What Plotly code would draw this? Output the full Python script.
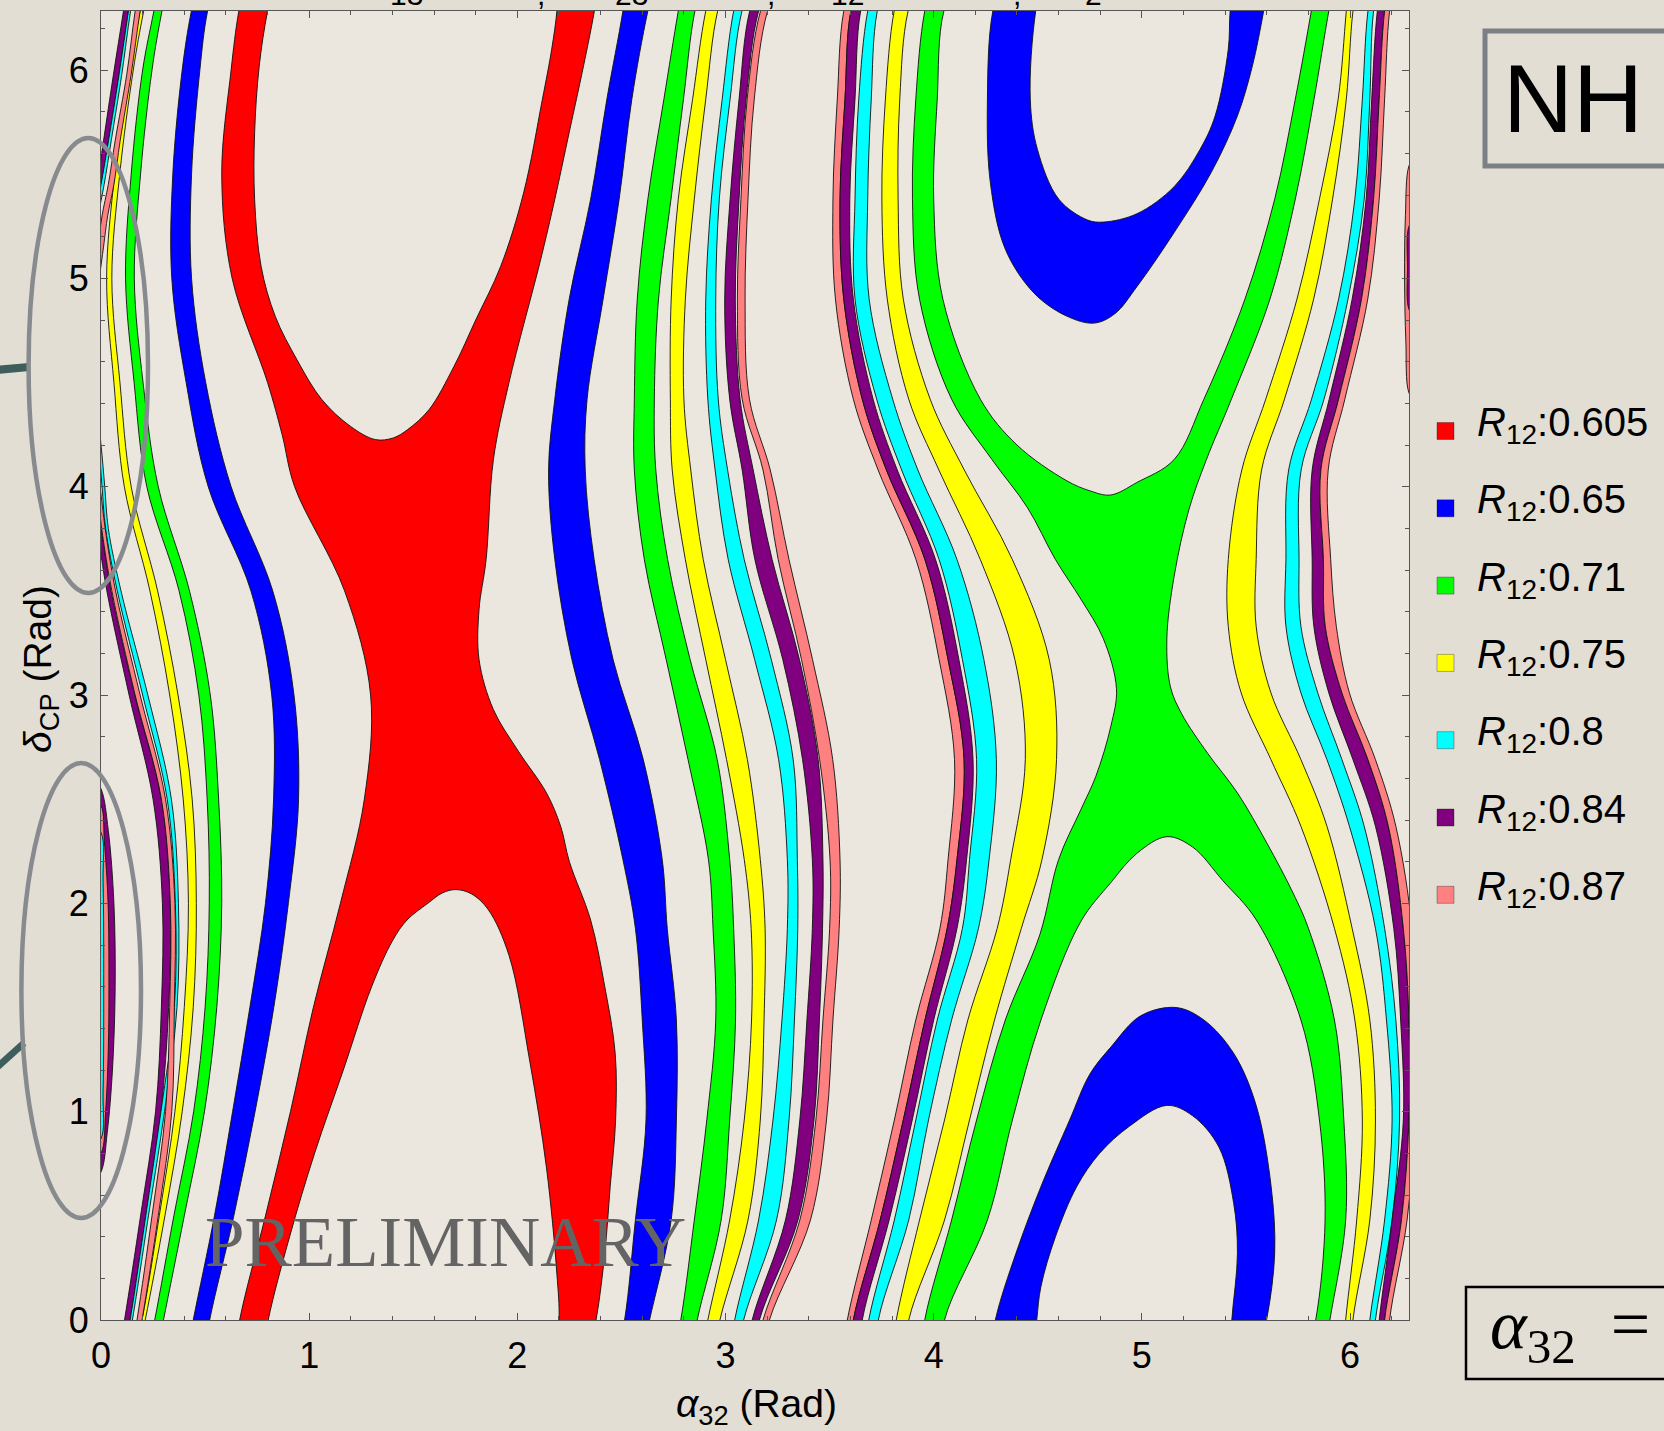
import plotly.graph_objects as go

# ---------------------------------------------------------------------------
# R12 bands in the (alpha_32, delta_CP) plane, normal hierarchy.
# Every band is stored as its left / right alpha_32 edge (rad) sampled at a
# list of delta_CP values (rad); closed shapes are stored as alpha/delta lists.
# ---------------------------------------------------------------------------
LEVELS = ["0.605", "0.65", "0.71", "0.75", "0.8", "0.84", "0.87"]
LEVEL_COLORS = ["#ff0000", "#0000ff", "#00ff00", "#ffff00", "#00ffff", "#800080", "#ff8080"]

# --- red band (R12 = 0.605): outer edges and the two enclosed holes ---
RED_WEST_DELTA = [-0.25, 0.0, 0.5, 1.0, 1.5, 2.0, 2.5, 3.0, 3.5, 4.0, 4.25, 4.5, 5.0, 5.5, 6.0, 6.283, 6.55]
RED_WEST_ALPHA = [0.63, 0.666, 0.79, 0.91, 1.02, 1.15, 1.265, 1.295, 1.17, 0.93, 0.87, 0.80, 0.63, 0.58, 0.625, 0.662, 0.72]
RED_EAST_DELTA = [-0.25, 0.0, 0.32, 0.64, 0.96, 1.28, 1.6, 1.92, 2.2, 2.37, 2.53, 2.73, 2.93, 3.17, 3.41,
                  3.65, 4.13, 4.5, 5.09, 5.38, 5.70, 6.02, 6.283, 6.55]
RED_EAST_ALPHA = [2.32, 2.378, 2.42, 2.446, 2.472, 2.47, 2.42, 2.352, 2.25, 2.208, 2.14, 2.005, 1.885, 1.816, 1.816,
                  1.85, 1.885, 1.96, 2.112, 2.18, 2.249, 2.318, 2.37, 2.41]
RED_UPPER_HOLE_ALPHA = [0.86, 0.80, 0.760, 0.738, 0.738, 0.769, 0.837, 0.941, 1.061, 1.198, 1.318, 1.404, 1.473,
                        1.576, 1.696, 1.80, 1.92, 2.03, 2.12, 2.165, 2.19, 2.205]
RED_UPPER_HOLE_DELTA = [6.55, 6.283, 6.018, 5.70, 5.378, 5.058, 4.818, 4.61, 4.418, 4.29, 4.226, 4.234, 4.274,
                        4.37, 4.578, 4.80, 5.058, 5.41, 5.858, 6.1, 6.283, 6.55]
RED_LOWER_HOLE_ALPHA = [0.76, 0.803, 0.906, 1.026, 1.164, 1.30, 1.40, 1.47, 1.57, 1.64, 1.705, 1.78, 1.86, 1.96,
                        2.06, 2.14, 2.19, 2.20, 2.17]
RED_LOWER_HOLE_DELTA = [-0.25, 0.0, 0.4, 0.8, 1.2, 1.6, 1.82, 1.92, 2.0, 2.05, 2.066, 2.045, 1.97, 1.75,
                        1.24, 0.73, 0.22, 0.0, -0.25]

# --- bands left of the red region ---
DELTA_WEST = [-0.25, 0.0, 0.5, 1.0, 1.5, 2.0, 2.5, 3.0, 3.5, 4.0, 4.5, 5.0, 5.5, 6.0, 6.283, 6.55]
BLUE_WEST_L = [0.395, 0.443, 0.545, 0.632, 0.715, 0.790, 0.829, 0.820, 0.720, 0.515, 0.409, 0.340, 0.345, 0.390, 0.434, 0.497]
BLUE_WEST_R = [0.480, 0.522, 0.638, 0.740, 0.830, 0.900, 0.949, 0.927, 0.825, 0.625, 0.503, 0.435, 0.435, 0.475, 0.512, 0.584]
GREEN_WEST_L = [0.206, 0.258, 0.350, 0.445, 0.500, 0.520, 0.510, 0.470, 0.375, 0.220, 0.159, 0.118, 0.145, 0.200, 0.254, 0.307]
GREEN_WEST_R = [0.250, 0.300, 0.400, 0.497, 0.556, 0.580, 0.565, 0.525, 0.425, 0.275, 0.202, 0.160, 0.190, 0.245, 0.293, 0.353]
YELLOW_WEST_L = [0.141, 0.197, 0.280, 0.355, 0.400, 0.420, 0.395, 0.330, 0.235, 0.112, 0.062, 0.027, 0.066, 0.135, 0.188, 0.241]
YELLOW_WEST_R = [0.161, 0.2125, 0.307, 0.390, 0.443, 0.458, 0.438, 0.370, 0.272, 0.145, 0.091, 0.052, 0.090, 0.155, 0.205, 0.263]

# thin bands near alpha_32 = 0, lower part (leave through the left frame)
DELTA_WEST_LOW = [-0.25, 0.0, 0.5, 1.0, 1.5, 2.0, 2.5, 3.0, 3.5, 3.8, 4.0, 4.2, 4.45]
PURPLE_LOW_L = [0.070, 0.113, 0.190, 0.262, 0.290, 0.295, 0.250, 0.135, 0.028, -0.020, -0.060, -0.100, -0.140]
PURPLE_LOW_R = [0.095, 0.140, 0.215, 0.288, 0.325, 0.333, 0.290, 0.162, 0.048, 0.000, -0.040, -0.080, -0.120]
PINK_LOW_L = [0.130, 0.173, 0.245, 0.310, 0.330, 0.333, 0.290, 0.164, 0.052, 0.003, -0.020, -0.060, -0.100]
PINK_LOW_R = [0.152, 0.197, 0.275, 0.340, 0.352, 0.355, 0.310, 0.188, 0.070, 0.020, -0.005, -0.040, -0.080]
CYAN_LOW_L = [0.095, 0.140, 0.215, 0.288, 0.352, 0.357, 0.318, 0.200, 0.078, 0.022, 0.005, -0.012, -0.050]
CYAN_LOW_R = [0.106, 0.151, 0.228, 0.305, 0.365, 0.372, 0.338, 0.225, 0.096, 0.035, 0.018, 0.000, -0.030]

# thin bands near alpha_32 = 0, upper part
DELTA_WEST_HIGH = [4.95, 5.15, 5.30, 5.45, 5.66, 5.98, 6.283, 6.55]
PURPLE_HIGH_L = [-0.150, -0.110, -0.050, -0.020, 0.012, 0.060, 0.108, 0.150]
PURPLE_HIGH_R = [-0.120, -0.080, -0.025, 0.005, 0.036, 0.087, 0.132, 0.175]
CYAN_HIGH_L = [-0.120, -0.070, -0.030, 0.000, 0.036, 0.087, 0.132, 0.175]
CYAN_HIGH_R = [-0.100, -0.050, -0.015, 0.015, 0.049, 0.100, 0.142, 0.188]
PINK_HIGH_L = [-0.040, -0.015, 0.005, 0.035, 0.068, 0.124, 0.164, 0.207]
PINK_HIGH_R = [-0.015, 0.012, 0.032, 0.062, 0.092, 0.145, 0.188, 0.234]

# small islands on the alpha_32 = 0 and alpha_32 = 2*pi edges
ISLAND_PURPLE_ALPHA = [-0.05, 0.0, 0.03, 0.055, 0.068, 0.062, 0.035, 0.0, -0.05]
ISLAND_PURPLE_DELTA = [0.65, 0.71, 0.9, 1.2, 1.6, 2.0, 2.35, 2.55, 2.62]
ISLAND_PINK_ALPHA = [-0.05, 0.0, 0.022, 0.035, 0.038, 0.034, 0.016, 0.0, -0.05]
ISLAND_PINK_DELTA = [0.76, 0.8, 1.0, 1.3, 1.6, 2.0, 2.3, 2.47, 2.52]
ISLAND_CYAN_ALPHA = [-0.05, 0.0, 0.010, 0.013, 0.010, 0.0, -0.05]
ISLAND_CYAN_DELTA = [0.83, 0.87, 1.1, 1.6, 2.1, 2.34, 2.38]
EDGE_PINK_ALPHA = [6.32, 6.283, 6.268, 6.262, 6.266, 6.283, 6.32]
EDGE_PINK_DELTA = [4.40, 4.45, 4.7, 5.0, 5.3, 5.54, 5.6]
EDGE_PURPLE_ALPHA = [6.32, 6.283, 6.276, 6.283, 6.32]
EDGE_PURPLE_DELTA = [4.8, 4.85, 5.05, 5.25, 5.3]

# --- bands between the red and the green regions ---
DELTA_MID = [-0.25, 0.0, 0.48, 0.96, 1.44, 1.88, 2.21, 2.69, 3.17, 3.65, 4.08, 4.42, 4.90, 5.38, 5.86, 6.283, 6.55]
BLUE_MID_L = [2.460, 2.515, 2.567, 2.618, 2.600, 2.567, 2.507, 2.395, 2.262, 2.180, 2.150, 2.180, 2.249, 2.352, 2.430, 2.507, 2.544]
BLUE_MID_R = [2.580, 2.635, 2.739, 2.764, 2.764, 2.720, 2.696, 2.605, 2.460, 2.369, 2.326, 2.335, 2.412, 2.489, 2.550, 2.627, 2.693]
GREEN_MID_L = [2.732, 2.785, 2.850, 2.910, 2.953, 2.940, 2.918, 2.820, 2.715, 2.610, 2.562, 2.562, 2.576, 2.627, 2.704, 2.773, 2.821]
GREEN_MID_R = [2.820, 2.864, 2.979, 3.020, 3.048, 3.039, 3.020, 2.960, 2.830, 2.722, 2.665, 2.658, 2.678, 2.738, 2.798, 2.853, 2.928]
YELLOW_MID_L = [2.868, 2.915, 3.020, 3.090, 3.125, 3.123, 3.090, 3.005, 2.905, 2.807, 2.744, 2.735, 2.739, 2.773, 2.842, 2.905, 2.973]
YELLOW_MID_R = [2.928, 2.973, 3.108, 3.167, 3.185, 3.190, 3.167, 3.105, 3.000, 2.893, 2.833, 2.800, 2.807, 2.850, 2.905, 2.962, 3.048]
CYAN_MID_L = [3.006, 3.044, 3.159, 3.228, 3.271, 3.297, 3.297, 3.255, 3.140, 3.013, 2.950, 2.915, 2.905, 2.932, 2.984, 3.039, 3.108]
CYAN_MID_R = [3.045, 3.087, 3.245, 3.305, 3.331, 3.347, 3.345, 3.325, 3.220, 3.090, 3.010, 2.965, 2.953, 2.970, 3.022, 3.079, 3.175]
PURPLE_MID_L = [3.086, 3.128, 3.288, 3.357, 3.391, 3.417, 3.417, 3.370, 3.275, 3.141, 3.080, 3.020, 2.996, 3.022, 3.065, 3.116, 3.217]
PURPLE_MID_R = [3.124, 3.163, 3.348, 3.425, 3.451, 3.466, 3.468, 3.445, 3.355, 3.224, 3.133, 3.070, 3.047, 3.065, 3.099, 3.159, 3.266]
PINK_MID_L = [3.130, 3.180, 3.357, 3.434, 3.468, 3.500, 3.502, 3.452, 3.365, 3.253, 3.180, 3.080, 3.057, 3.074, 3.104, 3.168, 3.278]
PINK_MID_R = [3.164, 3.211, 3.408, 3.485, 3.516, 3.546, 3.550, 3.515, 3.418, 3.305, 3.215, 3.115, 3.094, 3.108, 3.138, 3.202, 3.320]

PINK_EAST_L = [3.550, 3.585, 3.700, 3.811, 3.914, 4.030, 4.069, 4.100, 4.026, 3.915, 3.733, 3.614, 3.528, 3.516, 3.537, 3.568, 3.649]
PINK_EAST_R = [3.585, 3.614, 3.743, 3.854, 3.958, 4.065, 4.112, 4.146, 4.069, 3.958, 3.773, 3.657, 3.568, 3.550, 3.574, 3.602, 3.686]
PURPLE_EAST_L = [3.585, 3.614, 3.743, 3.854, 3.958, 4.065, 4.112, 4.146, 4.069, 3.958, 3.773, 3.657, 3.568, 3.550, 3.574, 3.602, 3.686]
PURPLE_EAST_R = [3.633, 3.657, 3.786, 3.897, 4.000, 4.112, 4.158, 4.189, 4.121, 4.009, 3.825, 3.709, 3.614, 3.597, 3.622, 3.649, 3.729]
CYAN_EAST_L = [3.658, 3.688, 3.811, 3.914, 4.017, 4.138, 4.172, 4.206, 4.138, 4.026, 3.846, 3.726, 3.622, 3.622, 3.640, 3.683, 3.756]
CYAN_EAST_R = [3.710, 3.734, 3.880, 3.975, 4.086, 4.215, 4.266, 4.301, 4.241, 4.112, 3.924, 3.803, 3.690, 3.683, 3.700, 3.729, 3.815]
YELLOW_EAST_L = [3.785, 3.820, 3.932, 4.052, 4.164, 4.305, 4.370, 4.440, 4.390, 4.224, 4.025, 3.880, 3.777, 3.751, 3.768, 3.810, 3.882]
YELLOW_EAST_R = [3.853, 3.880, 4.052, 4.172, 4.292, 4.421, 4.520, 4.590, 4.555, 4.378, 4.147, 3.983, 3.854, 3.829, 3.837, 3.877, 3.976]

# --- green band (R12 = 0.71) with its saddle, and the blue islands inside ---
GREEN_WEST_EDGE_DELTA = [-0.25, 0.0, 0.48, 0.96, 1.44, 1.85, 2.21, 2.45, 2.61, 2.85, 3.03, 3.27, 3.46, 3.65,
                         3.90, 4.13, 4.42, 4.9, 5.38, 5.86, 6.283, 6.55]
GREEN_WEST_EDGE_ALPHA = [3.93, 3.957, 4.086, 4.206, 4.344, 4.51, 4.60, 4.707, 4.779, 4.851, 4.878, 4.815, 4.707, 4.585,
                         4.45, 4.28, 4.086, 3.932, 3.898, 3.914, 3.957, 4.03]
GREEN_EAST_EDGE_DELTA = [-0.25, 0.0, 0.48, 0.96, 1.44, 1.88, 2.05, 2.29, 2.53, 2.72, 2.91, 3.04, 3.27, 3.57, 3.89,
                         4.13, 4.42, 4.9, 5.38, 5.86, 6.283, 6.55]
GREEN_EAST_EDGE_ALPHA = [5.86, 5.903, 5.979, 5.97, 5.925, 5.80, 5.726, 5.6, 5.459, 5.316, 5.191, 5.137, 5.12, 5.155, 5.226,
                         5.31, 5.43, 5.615, 5.737, 5.827, 5.898, 5.95]
GREEN_UPPER_HOLE_ALPHA = [4.17, 4.049, 4.017, 4.0, 4.044, 4.224, 4.40, 4.636, 4.75, 4.85, 4.976, 5.155, 5.298, 5.495,
                          5.638, 5.737, 5.814, 5.86]
GREEN_UPPER_HOLE_DELTA = [6.55, 6.283, 5.86, 5.38, 4.9, 4.42, 4.2, 4.03, 3.98, 3.96, 4.02, 4.13, 4.42, 4.9,
                          5.38, 5.86, 6.283, 6.55]
GREEN_LOWER_HOLE_ALPHA = [4.03, 4.052, 4.258, 4.378, 4.515, 4.705, 4.851, 4.976, 5.12, 5.244, 5.388, 5.55, 5.764,
                          5.853, 5.88, 5.835, 5.77]
GREEN_LOWER_HOLE_DELTA = [-0.25, 0.0, 0.48, 0.96, 1.44, 1.91, 2.10, 2.24, 2.32, 2.27, 2.11, 1.92, 1.44,
                          0.96, 0.48, 0.0, -0.25]

BLUE_CAP_OUTER_ALPHA = [4.37, 4.284, 4.258, 4.272, 4.344, 4.481, 4.636, 4.77, 4.87, 4.976, 5.155, 5.334, 5.459,
                        5.531, 5.585, 5.63]
BLUE_CAP_OUTER_DELTA = [6.55, 6.283, 5.86, 5.46, 5.14, 4.93, 4.82, 4.785, 4.83, 4.96, 5.22, 5.51, 5.78,
                        6.02, 6.283, 6.55]
BLUE_CAP_INNER_ALPHA = [4.55, 4.49, 4.464, 4.498, 4.601, 4.739, 4.815, 4.976, 5.155, 5.28, 5.352, 5.415, 5.424, 5.455]
BLUE_CAP_INNER_DELTA = [6.55, 6.283, 5.86, 5.62, 5.38, 5.28, 5.27, 5.31, 5.44, 5.62, 5.78, 6.1, 6.283, 6.55]
BLUE_DROP_OUTER_ALPHA = [4.26, 4.296, 4.395, 4.515, 4.653, 4.75, 4.851, 4.994, 5.164, 5.298, 5.441, 5.549, 5.621,
                         5.638, 5.599, 5.535]
BLUE_DROP_OUTER_DELTA = [-0.25, 0.0, 0.32, 0.64, 0.96, 1.18, 1.31, 1.46, 1.50, 1.44, 1.28, 1.03, 0.64,
                         0.32, 0.0, -0.25]
BLUE_DROP_INNER_ALPHA = [4.47, 4.495, 4.515, 4.585, 4.687, 4.797, 4.94, 5.119, 5.244, 5.37, 5.441, 5.459, 5.432, 5.418]
BLUE_DROP_INNER_DELTA = [-0.25, 0.0, 0.16, 0.40, 0.64, 0.80, 0.93, 1.03, 0.98, 0.83, 0.56, 0.32, 0.0, -0.25]

# --- bands right of the green region ---
DELTA_FAR = [-0.25, 0.0, 0.48, 0.96, 1.44, 1.88, 2.37, 2.69, 3.01, 3.33, 3.65, 4.08, 4.42, 4.90, 5.38, 5.86, 6.283, 6.55]
YELLOW_FAR_L = [5.960, 5.979, 6.032, 6.059, 6.023, 5.925, 5.764, 5.620, 5.477, 5.415, 5.415, 5.480, 5.595, 5.745, 5.853, 5.943, 5.982, 6.007]
YELLOW_FAR_R = [5.998, 6.014, 6.095, 6.122, 6.095, 6.010, 5.889, 5.764, 5.620, 5.549, 5.549, 5.575, 5.685, 5.825, 5.916, 5.982, 6.014, 6.058]
CYAN_FAR_L = [6.070, 6.095, 6.166, 6.202, 6.175, 6.122, 5.997, 5.889, 5.764, 5.692, 5.692, 5.705, 5.815, 5.945, 6.023, 6.059, 6.086, 6.133]
CYAN_FAR_R = [6.104, 6.122, 6.202, 6.238, 6.220, 6.166, 6.068, 5.961, 5.845, 5.764, 5.755, 5.765, 5.875, 5.990, 6.068, 6.095, 6.113, 6.166]
PURPLE_FAR_L = [6.115, 6.140, 6.202, 6.256, 6.243, 6.210, 6.122, 6.014, 5.898, 5.826, 5.818, 5.818, 5.900, 6.010, 6.077, 6.104, 6.131, 6.174]
PURPLE_FAR_R = [6.150, 6.166, 6.247, 6.283, 6.283, 6.256, 6.184, 6.086, 5.961, 5.881, 5.872, 5.860, 5.945, 6.055, 6.113, 6.140, 6.166, 6.211]
PINK_FAR_L = [6.150, 6.166, 6.247, 6.283, 6.283, 6.256, 6.184, 6.086, 5.961, 5.881, 5.872, 5.860, 5.945, 6.055, 6.113, 6.140, 6.166, 6.211]
PINK_FAR_R = [6.176, 6.190, 6.274, 6.310, 6.310, 6.297, 6.220, 6.122, 5.997, 5.934, 5.907, 5.895, 5.975, 6.085, 6.140, 6.166, 6.190, 6.235]

# text fragments of the parameter line sitting above the frame
HEADER_PIECES = ["13", ",", "23", ",", "12", ",", "2"]
HEADER_PIECE_X = [406, 541, 631, 771, 847, 1017, 1093]

# ---------------------------------------------------------------------------
RED, BLUE, GREEN, YELLOW, CYAN, PURPLE, PINK = LEVEL_COLORS
PAPER_BG = "#e3ded4"
PLOT_BG = "#ebe7df"
EDGE = dict(color="#111111", width=0.9, shape="spline", smoothing=1.0)
TWO_PI = 6.283185307179586

# pixel geometry of the frame inside the 1664 x 1431 page
FIG_W, FIG_H = 1664, 1431
FRAME_L, FRAME_R, FRAME_T, FRAME_B = 101, 1409, 11, 1320


def paper_x(px):
    return (px - FRAME_L) / (FRAME_R - FRAME_L)


def paper_y(py):
    return (FRAME_B - py) / (FRAME_B - FRAME_T)


fig = go.Figure()


def add_region(alpha, delta, color):
    fig.add_trace(go.Scatter(x=alpha, y=delta, mode="lines", fill="toself", fillcolor=color,
                             line=EDGE, hoverinfo="skip", showlegend=False))


def add_strip(left, right, deltas, color):
    add_region(list(left) + list(reversed(right)), list(deltas) + list(reversed(deltas)), color)


def add_between(a_left, d_left, a_right, d_right, color):
    add_region(list(a_left) + list(reversed(a_right)), list(d_left) + list(reversed(d_right)), color)


# red region with its two holes
add_between(RED_WEST_ALPHA, RED_WEST_DELTA, RED_EAST_ALPHA, RED_EAST_DELTA, RED)
add_region(RED_UPPER_HOLE_ALPHA, RED_UPPER_HOLE_DELTA, PLOT_BG)
add_region(RED_LOWER_HOLE_ALPHA, RED_LOWER_HOLE_DELTA, PLOT_BG)

# western bands
add_strip(BLUE_WEST_L, BLUE_WEST_R, DELTA_WEST, BLUE)
add_strip(GREEN_WEST_L, GREEN_WEST_R, DELTA_WEST, GREEN)
add_strip(YELLOW_WEST_L, YELLOW_WEST_R, DELTA_WEST, YELLOW)
add_strip(PURPLE_LOW_L, PURPLE_LOW_R, DELTA_WEST_LOW, PURPLE)
add_strip(CYAN_LOW_L, CYAN_LOW_R, DELTA_WEST_LOW, CYAN)
add_strip(PINK_LOW_L, PINK_LOW_R, DELTA_WEST_LOW, PINK)
add_strip(PURPLE_HIGH_L, PURPLE_HIGH_R, DELTA_WEST_HIGH, PURPLE)
add_strip(CYAN_HIGH_L, CYAN_HIGH_R, DELTA_WEST_HIGH, CYAN)
add_strip(PINK_HIGH_L, PINK_HIGH_R, DELTA_WEST_HIGH, PINK)
add_region(ISLAND_PURPLE_ALPHA, ISLAND_PURPLE_DELTA, PURPLE)
add_region(ISLAND_PINK_ALPHA, ISLAND_PINK_DELTA, PINK)
add_region(ISLAND_CYAN_ALPHA, ISLAND_CYAN_DELTA, CYAN)

# central bands
for left, right, color in [(BLUE_MID_L, BLUE_MID_R, BLUE), (GREEN_MID_L, GREEN_MID_R, GREEN),
                           (YELLOW_MID_L, YELLOW_MID_R, YELLOW), (CYAN_MID_L, CYAN_MID_R, CYAN),
                           (PURPLE_MID_L, PURPLE_MID_R, PURPLE), (PINK_MID_L, PINK_MID_R, PINK),
                           (PINK_EAST_L, PINK_EAST_R, PINK), (PURPLE_EAST_L, PURPLE_EAST_R, PURPLE),
                           (CYAN_EAST_L, CYAN_EAST_R, CYAN), (YELLOW_EAST_L, YELLOW_EAST_R, YELLOW)]:
    add_strip(left, right, DELTA_MID, color)

# green saddle region, its holes and the blue islands inside them
add_between(GREEN_WEST_EDGE_ALPHA, GREEN_WEST_EDGE_DELTA, GREEN_EAST_EDGE_ALPHA, GREEN_EAST_EDGE_DELTA, GREEN)
add_region(GREEN_UPPER_HOLE_ALPHA, GREEN_UPPER_HOLE_DELTA, PLOT_BG)
add_region(GREEN_LOWER_HOLE_ALPHA, GREEN_LOWER_HOLE_DELTA, PLOT_BG)
add_region(BLUE_CAP_OUTER_ALPHA, BLUE_CAP_OUTER_DELTA, BLUE)
add_region(BLUE_CAP_INNER_ALPHA, BLUE_CAP_INNER_DELTA, PLOT_BG)
add_region(BLUE_DROP_OUTER_ALPHA, BLUE_DROP_OUTER_DELTA, BLUE)
add_region(BLUE_DROP_INNER_ALPHA, BLUE_DROP_INNER_DELTA, PLOT_BG)

# eastern bands
for left, right, color in [(YELLOW_FAR_L, YELLOW_FAR_R, YELLOW), (CYAN_FAR_L, CYAN_FAR_R, CYAN),
                           (PURPLE_FAR_L, PURPLE_FAR_R, PURPLE), (PINK_FAR_L, PINK_FAR_R, PINK)]:
    add_strip(left, right, DELTA_FAR, color)
add_region(EDGE_PINK_ALPHA, EDGE_PINK_DELTA, PINK)
add_region(EDGE_PURPLE_ALPHA, EDGE_PURPLE_DELTA, PURPLE)

# ---------------------------------------------------------------------------
SANS = "Liberation Sans, Arial, Helvetica, sans-serif"
SERIF = "Liberation Serif, Times New Roman, serif"
axis_common = dict(
    range=[0, TWO_PI], tickvals=[0, 1, 2, 3, 4, 5, 6], ticks="inside", ticklen=7, tickwidth=1,
    tickcolor="#555555", showline=True, linecolor="#555555", linewidth=1, mirror="ticks",
    showgrid=False, zeroline=False, tickfont=dict(family=SANS, size=36, color="#000000"),
    minor=dict(dtick=0.2, tick0=0, ticks="inside", ticklen=4, tickcolor="#555555", showgrid=False),
)
fig.update_xaxes(**axis_common, ticklabelstandoff=4)
fig.update_yaxes(**axis_common, ticklabelstandoff=4)

annotations = []
shapes = []

# axis titles
annotations.append(dict(text="<i>α</i><sub>32</sub> (Rad)", x=paper_x(756), y=paper_y(1407), xref="paper",
                        yref="paper", showarrow=False, xanchor="center", yanchor="middle",
                        font=dict(family=SANS, size=39, color="#000000")))
annotations.append(dict(text="<i>δ</i><sub>CP</sub> (Rad)", x=paper_x(40), y=paper_y(669), xref="paper",
                        yref="paper", showarrow=False, textangle=-90, xanchor="center", yanchor="middle",
                        font=dict(family=SANS, size=39, color="#000000")))

# watermark
annotations.append(dict(text="PRELIMINARY", x=paper_x(445), y=paper_y(1242), xref="paper", yref="paper",
                        showarrow=False, xanchor="center", yanchor="middle",
                        font=dict(family=SERIF, size=71, color="#646464")))

# legend
LEGEND_X, LEGEND_Y0, LEGEND_STEP, SQUARE = 1445.5, 431.0, 77.3, 17.0
for i, (lvl, col) in enumerate(zip(LEVELS, LEVEL_COLORS)):
    yc = LEGEND_Y0 + i * LEGEND_STEP
    shapes.append(dict(type="rect", xref="paper", yref="paper",
                       x0=paper_x(LEGEND_X - SQUARE / 2), x1=paper_x(LEGEND_X + SQUARE / 2),
                       y0=paper_y(yc + SQUARE / 2), y1=paper_y(yc - SQUARE / 2),
                       fillcolor=col, line=dict(color="rgba(0,0,0,0.3)", width=1)))
    annotations.append(dict(text=f"<i>R</i><sub>12</sub>:{lvl}", x=paper_x(1475), y=paper_y(yc - 6),
                            xref="paper", yref="paper", showarrow=False, xanchor="left", yanchor="middle",
                            font=dict(family=SANS, size=40, color="#000000")))

# hierarchy label box
shapes.append(dict(type="rect", xref="paper", yref="paper", x0=paper_x(1485), x1=paper_x(1720),
                   y0=paper_y(166), y1=paper_y(31), line=dict(color="#7b8086", width=5)))
annotations.append(dict(text="NH", x=paper_x(1573), y=paper_y(99), xref="paper", yref="paper",
                        showarrow=False, xanchor="center", yanchor="middle",
                        font=dict(family=SANS, size=97, color="#000000")))

# phase label box
shapes.append(dict(type="rect", xref="paper", yref="paper", x0=paper_x(1466), x1=paper_x(1720),
                   y0=paper_y(1379), y1=paper_y(1287), line=dict(color="#000000", width=2.5)))
annotations.append(dict(text="<i>α</i><sub>32</sub>\u00a0\u00a0=", x=paper_x(1488), y=paper_y(1330),
                        xref="paper", yref="paper", showarrow=False, xanchor="left", yanchor="middle",
                        font=dict(family=SERIF, size=70, color="#000000")))

# parameter line above the frame (only its lowest part is on the page)
for piece, xpix in zip(HEADER_PIECES, HEADER_PIECE_X):
    annotations.append(dict(text=piece, x=paper_x(xpix), y=paper_y(13), xref="paper", yref="paper",
                            showarrow=False, xanchor="center", yanchor="bottom",
                            font=dict(family=SANS, size=30, color="#000000")))

# call-out marks on the left margin
shapes.append(dict(type="line", xref="paper", yref="paper", x0=paper_x(-4), y0=paper_y(370),
                   x1=paper_x(29), y1=paper_y(367), line=dict(color="#3e5d5c", width=8)))
shapes.append(dict(type="line", xref="paper", yref="paper", x0=paper_x(-6), y0=paper_y(1070),
                   x1=paper_x(24), y1=paper_y(1043), line=dict(color="#3e5d5c", width=7)))
shapes.append(dict(type="circle", xref="paper", yref="paper", x0=paper_x(28.6), x1=paper_x(148),
                   y0=paper_y(593), y1=paper_y(138), line=dict(color="#878b8f", width=4.5)))
shapes.append(dict(type="circle", xref="paper", yref="paper", x0=paper_x(21.4), x1=paper_x(141),
                   y0=paper_y(1218), y1=paper_y(763), line=dict(color="#878b8f", width=4.5)))

fig.update_layout(
    width=FIG_W, height=FIG_H, autosize=False,
    margin=dict(l=FRAME_L, r=FIG_W - FRAME_R, t=FRAME_T, b=FIG_H - FRAME_B, pad=0),
    paper_bgcolor=PAPER_BG, plot_bgcolor=PLOT_BG, showlegend=False,
    annotations=annotations, shapes=shapes,
)

fig.write_html("out.html")
